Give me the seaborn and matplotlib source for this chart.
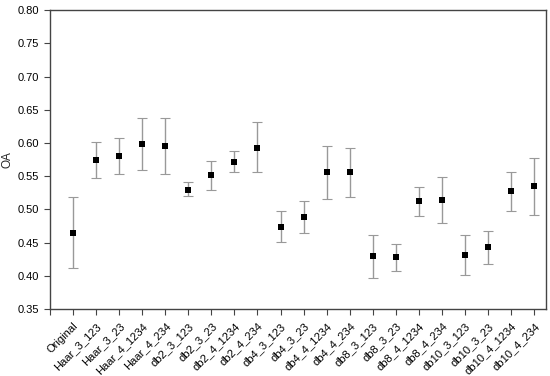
import matplotlib.pyplot as plt
import seaborn as sns
import pandas as pd
import numpy as np

# Category names and OA values (mean, lower and upper bound of the error bar)
labels = ["Original", "Haar_3_123", "Haar_3_23", "Haar_4_1234", "Haar_4_234",
          "db2_3_123", "db2_3_23", "db2_4_1234", "db2_4_234",
          "db4_3_123", "db4_3_23", "db4_4_1234", "db4_4_234",
          "db8_3_123", "db8_3_23", "db8_4_1234", "db8_4_234",
          "db10_3_123", "db10_3_23", "db10_4_1234", "db10_4_234"]
oa_mean = [0.465, 0.574, 0.580, 0.599, 0.595,
           0.530, 0.552, 0.572, 0.593,
           0.474, 0.489, 0.556, 0.556,
           0.430, 0.428, 0.512, 0.514,
           0.432, 0.443, 0.527, 0.535]
oa_low = [0.412, 0.547, 0.553, 0.560, 0.554,
          0.520, 0.530, 0.556, 0.556,
          0.451, 0.465, 0.515, 0.519,
          0.397, 0.408, 0.490, 0.479,
          0.401, 0.418, 0.497, 0.491]
oa_high = [0.518, 0.601, 0.607, 0.638, 0.637,
           0.541, 0.573, 0.588, 0.631,
           0.497, 0.512, 0.596, 0.592,
           0.462, 0.448, 0.534, 0.549,
           0.462, 0.467, 0.556, 0.578]

df = pd.DataFrame({"name": labels, "OA": oa_mean, "low": oa_low, "high": oa_high})
df["pos"] = np.arange(len(df))

sns.set_style("ticks")
plt.rcParams["font.family"] = ["Liberation Sans", "DejaVu Sans"]

fig, ax = plt.subplots(figsize=(5.5, 3.76), dpi=100)
fig.subplots_adjust(left=0.091, right=0.992, top=0.973, bottom=0.178)

# error bars first, then the square markers on top
ax.errorbar(df["pos"], df["OA"],
            yerr=[df["OA"] - df["low"], df["high"] - df["OA"]],
            fmt="none", ecolor="#999999", elinewidth=1.0,
            capsize=3.5, capthick=0.8, zorder=2)
sns.scatterplot(data=df, x="pos", y="OA", marker="s", color="black",
                s=17, edgecolor="black", linewidth=0, ax=ax, zorder=3)

ax.set_xlim(-1, len(df) - 0.5)
ax.set_ylim(0.35, 0.80)
ax.set_yticks(np.arange(0.35, 0.801, 0.05))
ax.set_yticklabels([f"{v:.2f}" for v in np.arange(0.35, 0.801, 0.05)])
ax.set_xticks(np.arange(-1, len(df)))
ax.set_xticklabels([""] + labels, rotation=45, ha="right", rotation_mode="anchor")
ax.set_xlabel("")
ax.set_ylabel("OA", fontsize=8.5)
ax.yaxis.set_label_coords(-0.074, 0.5)

for s in ax.spines.values():
    s.set_color("#444444")
    s.set_linewidth(1.0)
ax.tick_params(axis="both", direction="out", length=4.5, width=0.8,
               colors="#444444", labelcolor="black", labelsize=8,
               top=False, right=False)
ax.tick_params(axis="x", pad=4)

plt.savefig("out.png", dpi=100)
